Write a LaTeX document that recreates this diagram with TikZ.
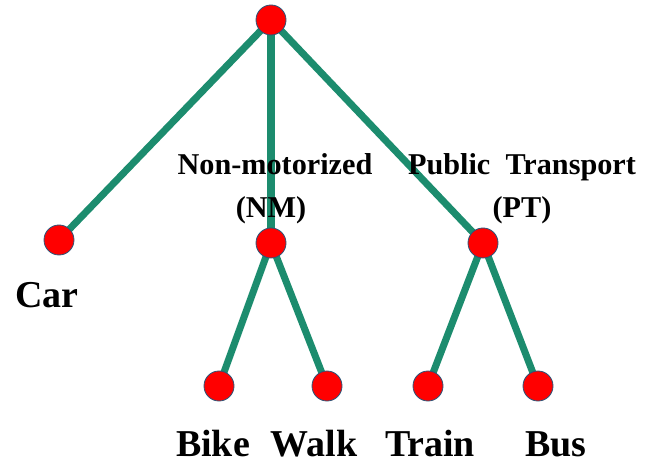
\documentclass[tikz,border=0pt]{standalone}
\usepackage{fontspec}
\setmainfont{Liberation Serif}
\usetikzlibrary{backgrounds}
\definecolor{edgegreen}{RGB}{28,140,110}
\definecolor{dotrim}{RGB}{45,85,120}

\begin{document}
\begin{tikzpicture}
%\draw[step=0.5cm,gray,very thin] (0,0) grid (16,11.5); %background grid
\useasboundingbox (0,0) rectangle (16.15,11.525);
\tikzset{dot/.style={circle,draw=dotrim,fill=red,line width=0.6pt,minimum size=0.75cm,inner sep=0pt},
         branch/.style={edgegreen,line width=5pt},
         biglabel/.style={font=\bfseries\fontsize{27}{29}\selectfont,anchor=base},
         smalllabel/.style={font=\bfseries\fontsize{21.5}{23}\selectfont,anchor=base}}

\node[dot] (root)  at (6.775,11.025) {};
\node[dot] (car)   at (1.475,5.525) {};
\node[dot] (nm)    at (6.775,5.45) {};
\node[dot] (pt)    at (12.075,5.45) {};
\node[dot] (bike)  at (5.475,1.875) {};
\node[dot] (walk)  at (8.175,1.875) {};
\node[dot] (train) at (10.7,1.875) {};
\node[dot] (bus)   at (13.45,1.875) {};

\begin{scope}[on background layer]
\draw[branch] (root.center) -- (car.center);
\draw[branch] (root.center) -- (nm.center);
\draw[branch] (root.center) -- (pt.center);
\draw[branch] (nm.center) -- (bike.center);
\draw[branch] (nm.center) -- (walk.center);
\draw[branch] (pt.center) -- (train.center);
\draw[branch] (pt.center) -- (bus.center);
\end{scope}

\node[biglabel] (carlbl)   at (1.175,3.83) {Car};
\node[biglabel] (bikelbl)  at (5.325,0.12) {Bike};
\node[biglabel] (walklbl)  at (7.85,0.12) {Walk};
\node[biglabel] (trainlbl) at (10.75,0.12) {Train};
\node[biglabel] (buslbl)   at (13.9,0.12) {Bus};

\node[smalllabel] (nmlbl) at (6.875,7.15) {Non-motorized};
\node[smalllabel] (nmabbr) at (6.775,6.08) {(NM)};
\node[smalllabel] (ptlbl) at (13.05,7.15) {Public\ \ Transport};
\node[smalllabel] (ptabbr) at (13.05,6.08) {(PT)};

\end{tikzpicture}
\end{document}
